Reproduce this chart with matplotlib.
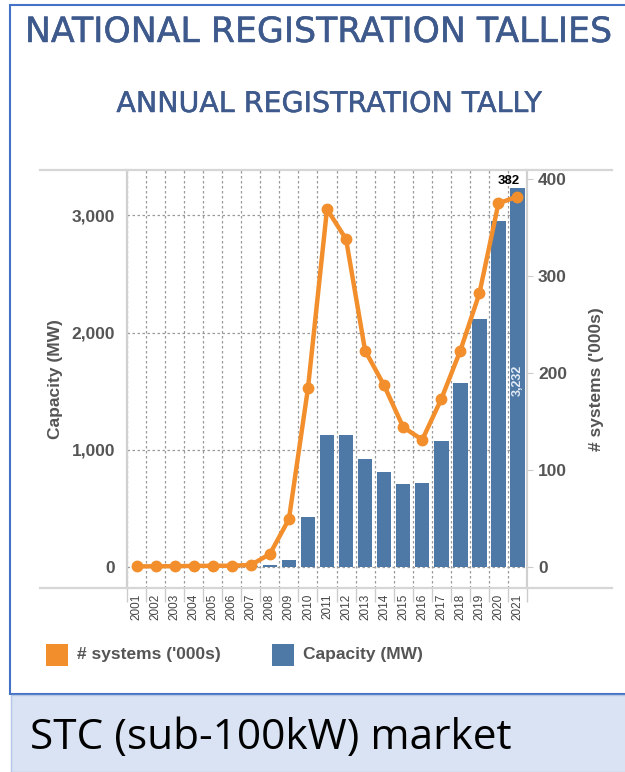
import matplotlib
matplotlib.use('Agg')
import matplotlib.pyplot as plt
import matplotlib.patheffects as pe
from matplotlib.lines import Line2D
from matplotlib.patches import Rectangle

plt.rcParams['font.family'] = ['Liberation Sans', 'DejaVu Sans']

# Data
years = [str(y) for y in range(2001, 2022)]
capacity_mw = [2, 2, 2, 3, 3, 4, 8, 22, 60, 430, 1125, 1125, 920, 812, 707, 721,
               1074, 1568, 2114, 2950, 3232]
systems_k = [0.3, 0.4, 0.5, 0.8, 0.9, 1.0, 1.8, 13, 49, 184, 369, 338, 223, 187,
             144, 131, 173, 223, 282, 375, 382]
left_ticks = [0, 1000, 2000, 3000]
right_ticks = [0, 100, 200, 300, 400]

ORANGE = '#f28e2b'
BLUE = '#4e79a7'
GREY_TXT = '#555555'
TITLE_COL = '#3e5a8c'
FRAME = '#4472c4'

W, H = 625, 772
fig = plt.figure(figsize=(W / 100, H / 100), dpi=100)


def fx(px):
    return px / W


def fy(py):
    return 1 - py / H


# =========================================================================
# Frame and bottom band
# =========================================================================
fig.add_artist(Rectangle((fx(10), fy(694)), fx(620), 689 / H, transform=fig.transFigure,
                         facecolor='white', edgecolor=FRAME, lw=1.5, zorder=0))
fig.add_artist(Rectangle((fx(11), 0), fx(620), 77 / H, transform=fig.transFigure,
                         facecolor='#dae3f3', edgecolor='#b4c7e7', lw=1, zorder=0))
fig.text(fx(30), fy(738), 'STC (sub-100kW) market', fontsize=30.5, family='Open Sans',
         color='black', va='center', ha='left')

heavier = [pe.withStroke(linewidth=0.35, foreground=TITLE_COL)]
fig.text(fx(318), fy(32), 'NATIONAL REGISTRATION TALLIES', fontsize=25,
         family='DejaVu Sans', color=TITLE_COL, ha='center', va='center',
         path_effects=heavier)
fig.text(fx(329), fy(104), 'ANNUAL REGISTRATION TALLY', fontsize=20.5,
         family='DejaVu Sans', color=TITLE_COL, ha='center', va='center',
         path_effects=heavier)

# =========================================================================
# Chart
# =========================================================================
ax = fig.add_axes([fx(127), fy(588), fx(400), 418 / H])
ax2 = ax.twinx()
x = list(range(len(years)))

ax.bar(x, capacity_mw, width=0.76, color=BLUE, zorder=2)
ax2.plot(x, systems_k, color=ORANGE, lw=3.2, marker='o', ms=7.5, zorder=3)

ax.set_xlim(-0.5, len(years) - 0.5)
ax.set_ylim(-176, 3384)
ax2.set_ylim(-22, 409.4)

ax.set_yticks(left_ticks)
ax.set_yticklabels([f'{v:,}' for v in left_ticks])
ax2.set_yticks(right_ticks)
ax2.set_yticklabels([str(v) for v in right_ticks])

ax.set_xticks(x)
ax.set_xticklabels(years, rotation=90, fontsize=8.5, color='#444444')
ax.set_xticks([i + 0.5 for i in range(-1, len(years))], minor=True)
ax.tick_params(axis='x', which='major', length=0, pad=4)
ax.tick_params(axis='x', which='minor', length=10, color='#cccccc', width=1)
ax.tick_params(axis='y', length=0, pad=8.5, labelsize=12.5, labelcolor=GREY_TXT)
ax2.tick_params(axis='y', length=4.5, color='#cccccc', pad=3.5, labelsize=12.5,
                labelcolor=GREY_TXT)
for lbl in ax.get_yticklabels() + ax2.get_yticklabels():
    lbl.set_fontweight('bold')

ax.grid(True, axis='y', linestyle=(0, (2, 2)), color='#9a9a9a', lw=0.9)
ax.grid(True, axis='x', which='minor', linestyle=(0, (2, 2)), color='#9a9a9a', lw=0.9)
ax.set_axisbelow(True)

for a in (ax, ax2):
    for s in ('top', 'bottom'):
        a.spines[s].set_visible(False)
    a.spines['left'].set_color('#d0d0d0')
    a.spines['right'].set_color('#d0d0d0')
    a.spines['left'].set_linewidth(1.5)
    a.spines['right'].set_linewidth(1.5)

ax.set_ylabel('Capacity (MW)', fontsize=12.5, weight='bold', color=GREY_TXT, labelpad=6.5)
ax2.set_ylabel("# systems ('000s)", fontsize=12.5, weight='bold', color=GREY_TXT,
               labelpad=16)

# pane border lines
for py in (170, 588):
    fig.add_artist(Line2D([fx(40), fx(612)], [fy(py), fy(py)], color='#d6d6d6', lw=1.6))

# value labels on last year
ax2.annotate(f'{systems_k[-1]:.0f}', (x[-1], systems_k[-1]), xytext=(1.5, 7),
             textcoords='offset points', ha='right', va='bottom', fontsize=9.5,
             weight='bold', color='black')
ax.text(x[-1], 1590, f'{capacity_mw[-1]:,}', rotation=90, ha='center', va='center',
        fontsize=9, color='#e3ebf5', weight='bold')

# =========================================================================
# Legend
# =========================================================================
for px, col, label in [(46, ORANGE, "# systems ('000s)"), (272, BLUE, 'Capacity (MW)')]:
    fig.add_artist(Rectangle((fx(px), fy(666)), fx(22), 22 / H, transform=fig.transFigure,
                             facecolor=col, edgecolor='none'))
    fig.text(fx(px + 31), fy(655), label, fontsize=12.5, weight='bold', color=GREY_TXT,
             va='center', ha='left')

fig.savefig('out.png', dpi=100, facecolor='white')
